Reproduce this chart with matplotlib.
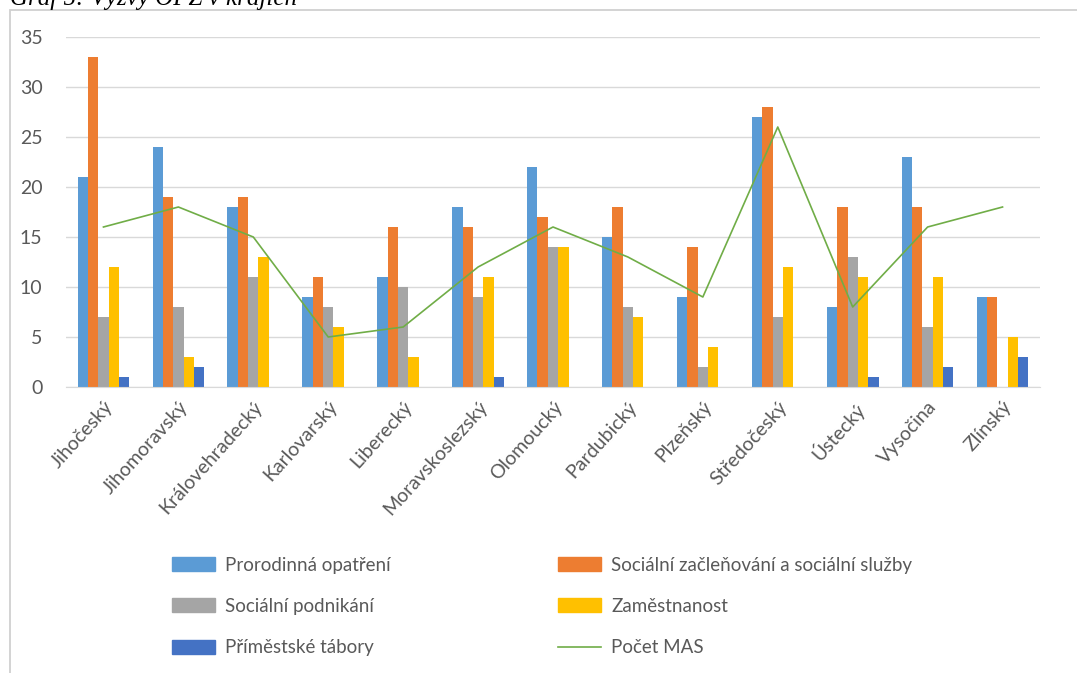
import numpy as np
import matplotlib
matplotlib.use('Agg')
import matplotlib.pyplot as plt
from matplotlib.patches import Rectangle, Patch
from matplotlib.lines import Line2D

kraje = ['Jihočeský', 'Jihomoravský', 'Královehradecký', 'Karlovarský', 'Liberecký',
         'Moravskoslezský', 'Olomoucký', 'Pardubický', 'Plzeňský', 'Středočeský',
         'Ústecký', 'Vysočina', 'Zlínský']
prorodinna = [21, 24, 18, 9, 11, 18, 22, 15, 9, 27, 8, 23, 9]
socialni_zaclenovani = [33, 19, 19, 11, 16, 16, 17, 18, 14, 28, 18, 18, 9]
socialni_podnikani = [7, 8, 11, 8, 10, 9, 14, 8, 2, 7, 13, 6, 0]
zamestnanost = [12, 3, 13, 6, 3, 11, 14, 7, 4, 12, 11, 11, 5]
primestske_tabory = [1, 2, 0, 0, 0, 1, 0, 0, 0, 0, 1, 2, 3]
pocet_mas = [16, 18, 15, 5, 6, 12, 16, 13, 9, 26, 8, 16, 18]

serie = ['Prorodinná opatření', 'Sociální začleňování a sociální služby',
         'Sociální podnikání', 'Zaměstnanost', 'Příměstské tábory']
barvy = ['#5B9BD5', '#ED7D31', '#A5A5A5', '#FFC000', '#4472C4']
hodnoty = [prorodinna, socialni_zaclenovani, socialni_podnikani, zamestnanost, primestske_tabory]

plt.rcParams['font.family'] = ['Lato', 'DejaVu Sans']

fig = plt.figure(figsize=(10.77, 6.73), dpi=100)
ax = fig.add_axes([66/1077, 1-387/673, (1040-66)/1077, 350/673])

# outer frame of the chart
fig.patches.append(Rectangle((10/1077, -0.1), 1.2, 0.1 + 1-10/673, transform=fig.transFigure,
                             fill=False, edgecolor='#D0D0D0', linewidth=1.3))

x = np.arange(len(kraje))
w = 0.138
for i, (vals, c) in enumerate(zip(hodnoty, barvy)):
    ax.bar(x + (i-2)*w, vals, width=w, color=c, zorder=2)
ax.plot(x, pocet_mas, color='#70AD47', linewidth=1.2, zorder=3)

ax.set_xlim(-0.5, len(kraje)-0.5)
ax.set_ylim(0, 35)
ax.set_yticks(range(0, 36, 5))
ax.yaxis.grid(True, color='#D9D9D9', linewidth=1, zorder=0)
for s in ['top', 'right', 'left']:
    ax.spines[s].set_visible(False)
ax.spines['bottom'].set_color('#D9D9D9')
ax.tick_params(axis='both', length=0, labelsize=14, colors='#595959')
ax.tick_params(axis='y', pad=17)
ax.set_xticks(x)
ax.set_xticklabels(kraje, rotation=48, ha='right', rotation_mode='anchor')
ax.tick_params(axis='x', pad=8)

h = [Patch(color=c) for c in barvy]
mas = Line2D([], [], color='#70AD47', linewidth=1.2)
opts = dict(loc='upper left', frameon=False, fontsize=13.5, handlelength=2.3,
            handleheight=0.75, labelspacing=1.3, labelcolor='#595959',
            handletextpad=0.55, borderaxespad=0)
fig.legend([h[0], h[2], h[4]], [serie[0], serie[2], serie[4]],
           bbox_to_anchor=(172/1077 - 0.007, 1-549/673), **opts)
fig.legend([h[1], h[3], mas], [serie[1], serie[3], 'Počet MAS'],
           bbox_to_anchor=(558/1077 - 0.007, 1-549/673), **opts)

fig.text(10/1077, 1-5/673, 'Graf 5: Výzvy OPZ v krajích', family='Liberation Serif',
         style='italic', fontsize=18, va='baseline', ha='left')

fig.savefig('out.png', dpi=100)
